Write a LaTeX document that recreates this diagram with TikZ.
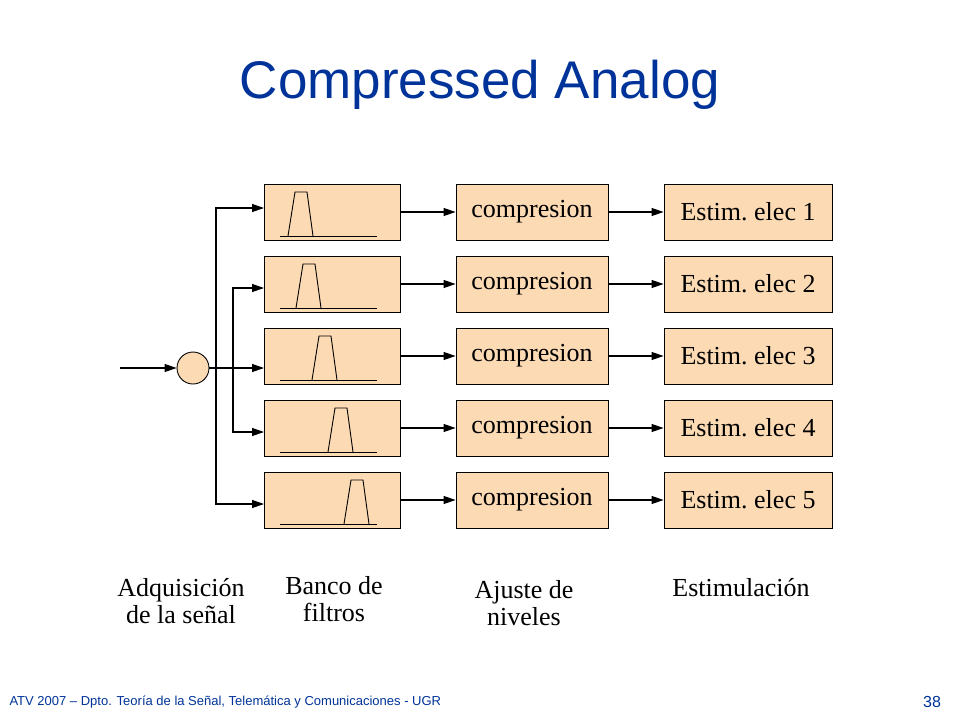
\documentclass[tikz,border=0pt]{standalone}
\usepackage{fontspec}
\setmainfont{Liberation Serif}
\newfontfamily\titlefont{Liberation Sans}
\usetikzlibrary{positioning,arrows.meta}
\definecolor{boxfill}{RGB}{252,218,180}
\definecolor{titleblue}{RGB}{0,51,153}
\tikzset{
  blk/.style={draw, fill=boxfill, minimum height=56pt, inner sep=0pt, line width=0.9pt},
  flt/.style={blk, minimum width=136pt},
  cmp/.style={blk, minimum width=152pt, font=\fontsize{26}{28}\selectfont},
  est/.style={blk, minimum width=168pt, font=\fontsize{26}{28}\selectfont},
  lbl/.style={align=center, font=\fontsize{26}{27}\selectfont},
  sig/.style={line width=1.1pt, -{Triangle[length=12pt,width=8pt]}}
}
\begin{document}
\begin{tikzpicture}[x=1pt,y=-1pt]
  \useasboundingbox (0,0) rectangle (960,720);
  \node[font=\titlefont\fontsize{53}{56}\selectfont, text=titleblue] (title) at (480,85) {Compressed Analog};

  \node[draw, line width=0.9pt, circle, fill=boxfill, minimum size=32pt, inner sep=0pt] (sum) at (193,368) {};
  \coordinate (in) at (120,368);
  \draw[sig] (in) -- (sum);

  \foreach \i/\sh/\ya in {1/0/208,2/8/288,3/24/368,4/40/432,5/56/504} {
    \pgfmathsetmacro{\yc}{212+72*(\i-1)}
    \node[flt] (f\i) at (332,\yc) {};
    \node[cmp] (c\i) at (532,\yc) {\raisebox{-3pt}{compresion}};
    \node[est] (e\i) at (748,\yc) {\raisebox{-3pt}{Estim.\ elec \i}};
    \draw[line width=0.9pt] (280,\yc+24) -- (377,\yc+24);
    \draw[line width=0.9pt] (288+\sh,\yc+24) -- (295+\sh,\yc-20)
      -- (307+\sh,\yc-20) -- (313+\sh,\yc+24);
    \coordinate (a\i) at (264,\ya);
    \draw[sig] (f\i) -- (c\i);
    \draw[sig] (c\i) -- (e\i);
  }

  % branches
  \draw[sig] (sum) -- (a3);
  \draw[sig] (216,368) |- (a1);
  \draw[sig] (216,368) |- (a5);
  \draw[sig] (233,368) |- (a2);
  \draw[sig] (233,368) |- (a4);

  \node[lbl] (l1) at (181,601) {Adquisición\\de la señal};
  \node[lbl] (l2) at (334,599) {Banco de\\filtros};
  \node[lbl] (l3) at (524,603) {Ajuste de\\niveles};
  \node[lbl] (l4) at (741,588) {Estimulación};

  \node[font=\titlefont\fontsize{13}{14}\selectfont, text=titleblue, anchor=west] (foot) at (6,702)
    {ATV 2007 – Dpto. Teoría de la Señal, Telemática y Comunicaciones - UGR};
  \node[font=\titlefont\fontsize{16}{16}\selectfont, text=titleblue] (page) at (932,702) {38};
\end{tikzpicture}
\end{document}
